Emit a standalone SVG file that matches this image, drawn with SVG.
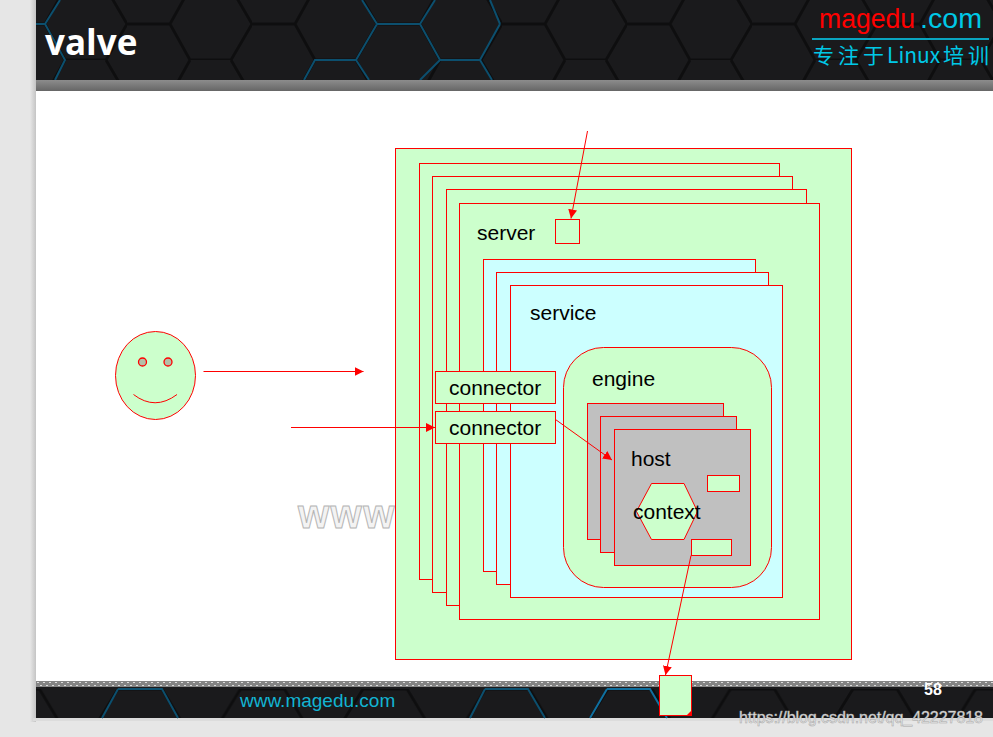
<svg xmlns="http://www.w3.org/2000/svg" width="993" height="737" viewBox="0 0 993 737">
<defs>
<style>
.b{stroke:#f00;stroke-width:1;fill:#ccffcc}
.c{fill:#ccffff}
.g{fill:#c0c0c0}
.t{font-family:"Liberation Sans",Arial,sans-serif;font-size:21px;fill:#000}
.a{stroke:#f00;stroke-width:1;fill:none;marker-end:url(#ah)}
.hb{fill:none;stroke:#0c4f6e;stroke-width:2}
</style>
<marker id="ah" markerUnits="userSpaceOnUse" markerWidth="10" markerHeight="10" refX="9" refY="4.500" orient="auto"><path d="M0 0L9 4.500L0 9z" fill="#f00"/></marker>
<pattern id="hex" patternUnits="userSpaceOnUse" x="127" y="-12" width="125" height="72">
<path d="M0 36H43L63 72H104L125 36M43 36L63 0M104 0L125 36" fill="none" stroke="#0e0e0f" stroke-width="3"/>
</pattern>
<pattern id="hexf" patternUnits="userSpaceOnUse" x="118" y="689" width="122.500" height="60">
<path d="M0 0H44L71 45M0 0L-18 30M122.500 0L104 30" fill="none" stroke="#0e0e0f" stroke-width="3"/>
</pattern>
<linearGradient id="bar" x1="0" y1="0" x2="0" y2="1"><stop offset="0" stop-color="#8c8c8c"/><stop offset="1" stop-color="#666"/></linearGradient>
<linearGradient id="sh" x1="0" y1="0" x2="1" y2="0"><stop offset="0" stop-color="#e6e6e6"/><stop offset="1" stop-color="#c4c4c4"/></linearGradient>
<pattern id="dots" patternUnits="userSpaceOnUse" x="36" y="681" width="6" height="6"><rect width="6" height="6" fill="#848484"/><rect x="1" y="1" width="2" height="1" fill="#ddd"/><rect x="4" y="4" width="2" height="1" fill="#ddd"/></pattern>
</defs>

<g id="slide-background">
<rect width="993" height="737" fill="#e6e6e6"/>
<rect x="30" y="0" width="6" height="722" fill="url(#sh)"/>
<rect x="33" y="718" width="960" height="3" fill="#dcdcdc"/>
<rect x="36" y="0" width="957" height="718" fill="#fff"/>
</g>

<g id="header">
<rect x="36" y="0" width="957" height="80" fill="#1a1a1c"/>
<rect x="36" y="0" width="957" height="80" fill="url(#hex)"/>
<path class="hb" d="M36 24H45L60 0M45 24L65 60L55 80M377 24H420L440 60H480L500 24M377 24L356 60H315L304 80M356 60L369 80M440 60L420 80M480 60L492 80M377 24L362 0M420 24L435 0M500 24L490 0"/>
<rect x="36" y="80" width="957" height="11" fill="url(#bar)"/>
<text x="45" y="55" font-family="'Open Sans',sans-serif" font-weight="700" font-size="35" fill="#fff">valve</text>
<text x="819" y="28" font-family="'Liberation Sans',sans-serif" font-size="28" textLength="96" lengthAdjust="spacingAndGlyphs" fill="#f00">magedu</text>
<text x="920" y="28" font-family="'Liberation Sans',sans-serif" font-size="28" textLength="62" lengthAdjust="spacingAndGlyphs" fill="#00c8e6">.com</text>
<rect x="812" y="38" width="177" height="2" fill="#0aa5c0"/>
<text y="63" font-family="'Noto Sans CJK SC',sans-serif" font-size="21" fill="#00c8e6"><tspan x="813">专</tspan><tspan x="838">注</tspan><tspan x="863">于</tspan><tspan x="887">Linux</tspan><tspan x="943">培</tspan><tspan x="968">训</tspan></text>
</g>

<g id="footer">
<rect x="36" y="681" width="957" height="6" fill="url(#dots)"/>
<rect x="36" y="687" width="957" height="31" fill="#1a1a1c"/>
<rect x="36" y="687" width="957" height="31" fill="url(#hexf)"/>
<path class="hb" d="M118 689H162L178 718M118 689L102 718M485 689H528L545 718M485 689L470 718"/>
<path class="hb" stroke="#0f6f9f" style="stroke:#0f6f9f" d="M607 689H650L667 718M607 689L590 718"/>
<text x="240" y="707" font-family="'Liberation Sans',sans-serif" font-size="19" fill="#12b4d2">www.magedu.com</text>
<text x="924" y="695" font-family="'Liberation Sans',sans-serif" font-weight="700" font-size="16" fill="#fff">58</text>
</g>

<g id="watermark-www">
<text x="298" y="528" font-family="'Liberation Sans',sans-serif" font-weight="700" font-size="40" letter-spacing="1.500" fill="#f3f3f3" stroke="#b4b4b4" stroke-width="1">www</text>
</g>

<g id="server-stack">
<rect class="b" x="395.500" y="148.500" width="456" height="511"/>
<rect class="b" x="419.500" y="163.500" width="360" height="416"/>
<rect class="b" x="432.500" y="176.500" width="360" height="416"/>
<rect class="b" x="446.500" y="189.500" width="360" height="416"/>
<rect class="b" x="459.500" y="203.500" width="360" height="416"/>
<text class="t" x="477" y="240">server</text>
<rect class="b" x="555.500" y="219.500" width="24" height="24"/>
</g>

<g id="service-stack">
<rect class="b c" x="483.500" y="259.500" width="272" height="312"/>
<rect class="b c" x="496.500" y="272.500" width="272" height="312"/>
<rect class="b c" x="510.500" y="285.500" width="272" height="312"/>
<text class="t" x="530" y="320">service</text>
</g>

<g id="engine">
<rect class="b" x="563.500" y="347.500" width="208" height="240" rx="40" ry="40"/>
<text class="t" x="592" y="386">engine</text>
</g>

<g id="host-stack">
<rect class="b g" x="587.500" y="403.500" width="136" height="136"/>
<rect class="b g" x="600.500" y="416.500" width="136" height="136"/>
<rect class="b g" x="614.500" y="429.500" width="136" height="136"/>
<text class="t" x="631" y="466">host</text>
<rect class="b" x="707.500" y="475.500" width="32" height="16"/>
<rect class="b" x="691.500" y="539.500" width="40" height="16"/>
</g>

<g id="context">
<path class="b" d="M651.500 483.500H684L697.500 511.500L684 539.500H651.500L636.500 511.500Z"/>
<text class="t" x="633" y="519">context</text>
</g>

<g id="connector-1">
<rect class="b" x="435.500" y="371.500" width="120" height="32"/>
<text class="t" x="449" y="395">connector</text>
</g>
<g id="connector-2">
<rect class="b" x="435.500" y="411.500" width="120" height="32"/>
<text class="t" x="449" y="435">connector</text>
</g>

<g id="face">
<ellipse class="b" cx="155.500" cy="375.500" rx="40" ry="44"/>
<circle cx="142.500" cy="362" r="4" fill="#b4c0a8" stroke="#f00" stroke-width="1.300"/>
<circle cx="168" cy="362" r="4" fill="#b4c0a8" stroke="#f00" stroke-width="1.300"/>
<path d="M133.500 394.500Q155 411 177 394.500" fill="none" stroke="#f00"/>
</g>

<g id="document">
<rect class="b" x="659.500" y="675.500" width="32" height="40"/>
<path d="M687 715L691 711V715Z" fill="#f00"/>
</g>

<g id="connectors">
<path class="a" d="M203.500 371.500H363.500"/>
<path class="a" d="M291 427.500H435"/>
<path class="a" d="M587.500 131L571 218.500"/>
<path class="a" d="M555.500 419.500L612 460"/>
<path class="a" d="M691 555.500L665.500 675"/>
</g>

<g id="csdn-watermark">
<text x="739" y="723" font-family="'Liberation Sans',sans-serif" font-size="16" fill="#e8e8e8" stroke="#a8a8a8" stroke-width="0.500" textLength="244">https://blog.csdn.net/qq_42227818</text>
</g>
</svg>
